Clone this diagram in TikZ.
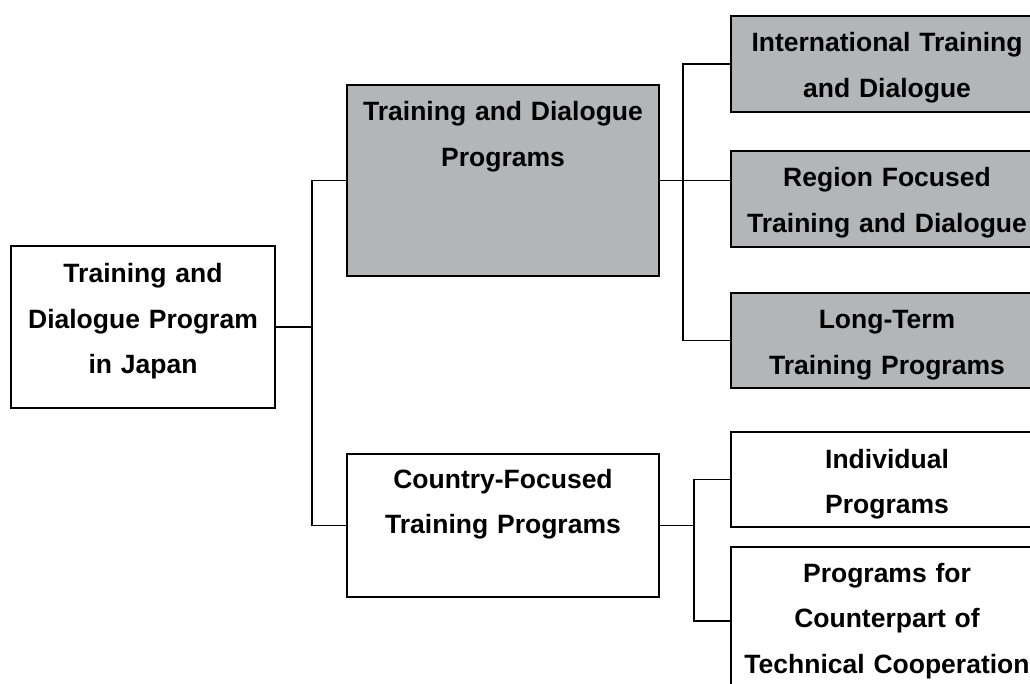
\documentclass[tikz,border=0pt]{standalone}
\usepackage{fontspec}
\setmainfont{Liberation Sans}
\usetikzlibrary{positioning}
\definecolor{boxgray}{RGB}{180,181,183}

\begin{document}
\begin{tikzpicture}[x=1pt,y=-1pt,
        box/.style={draw, line width=2pt, minimum width=312pt, inner sep=0pt},
        shaded/.style={box, fill=boxgray},
        txt/.style={font=\bfseries\fontsize{26.5}{45.5}\selectfont,
            text width=310pt, align=center, anchor=base, inner sep=0pt},
        link/.style={line width=1.6pt}]

        \useasboundingbox (0,0) rectangle (1030,684);

        \node[box, minimum width=264pt, minimum height=162pt] (J) at (143,327) {};
        \node[shaded, minimum height=191pt] (TD) at (503,180.5) {};
        \node[box, minimum height=143pt] (CF) at (503,525.5) {};
        \node[shaded, minimum height=96pt] (IT) at (887,64) {};
        \node[shaded, minimum height=96pt] (RF) at (887,199) {};
        \node[shaded, minimum height=95pt] (LT) at (887,340.5) {};
        \node[box, minimum height=95pt] (IP) at (887,479.5) {};
        \node[box, minimum height=148pt] (PC) at (887,621) {};

        \node[txt] (Jt) at (143,283) {Training and\\Dialogue Program\\in Japan};
        \node[txt] (TDt) at (503,121) {Training and Dialogue\\Programs};
        \node[txt] (CFt) at (503,488) {Country-Focused\\Training Programs};
        \node[txt] (ITt) at (887,52) {International Training\\and Dialogue};
        \node[txt] (RFt) at (887,187) {Region Focused\\Training and Dialogue};
        \node[txt] (LTt) at (887,329) {Long-Term\\Training Programs};
        \node[txt] (IPt) at (887,468) {Individual\\Programs};
        \node[txt] (PCt) at (887,582) {Programs for\\Counterpart of\\Technical Cooperation};

        \coordinate (j1) at (312,327);
        \coordinate (j2) at (683,180.5);
        \coordinate (j3) at (694,525.5);

        \draw[link] (J.east) -- (j1);
        \draw[link] (TD.west) -| (j1) |- (CF.west);
        \draw[link] (TD.east) -- (TD.east -| RF.west);
        \draw[link] (IT.west) -| (j2) |- (LT.west);
        \draw[link] (CF.east) -- (j3);
        \draw[link] (IP.west) -| (j3) |- (PC.west);

    \end{tikzpicture}
\end{document}
